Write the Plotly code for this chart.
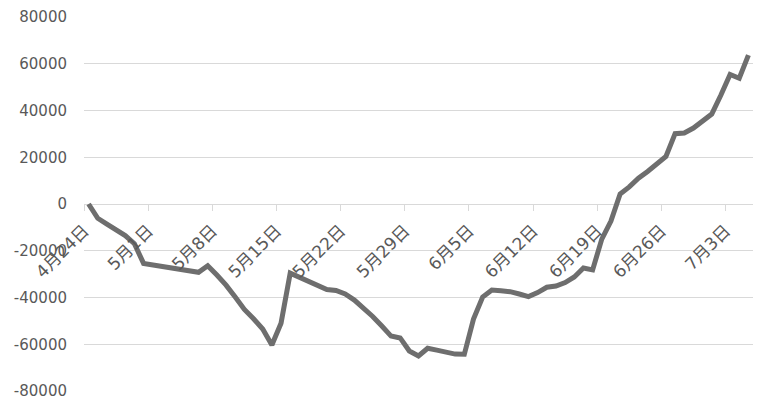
import plotly.graph_objects as go
import pandas as pd

# Data (daily values, 2020)
dates = [
    "2020-04-24", "2020-04-25", "2020-04-26", "2020-04-27", "2020-04-28", "2020-04-29", "2020-04-30",
    "2020-05-06", "2020-05-07", "2020-05-08", "2020-05-09", "2020-05-10", "2020-05-11", "2020-05-12",
    "2020-05-13", "2020-05-14", "2020-05-15", "2020-05-16", "2020-05-17", "2020-05-18", "2020-05-19",
    "2020-05-20", "2020-05-21", "2020-05-22", "2020-05-23", "2020-05-24", "2020-05-25", "2020-05-26",
    "2020-05-27", "2020-05-28", "2020-05-29", "2020-05-30", "2020-05-31", "2020-06-01", "2020-06-02",
    "2020-06-03", "2020-06-04", "2020-06-05", "2020-06-06", "2020-06-07", "2020-06-08", "2020-06-09",
    "2020-06-10", "2020-06-11", "2020-06-12", "2020-06-13", "2020-06-14", "2020-06-15", "2020-06-16",
    "2020-06-17", "2020-06-18", "2020-06-19", "2020-06-20", "2020-06-21", "2020-06-22", "2020-06-23",
    "2020-06-24", "2020-06-25", "2020-06-26", "2020-06-27", "2020-06-28", "2020-06-29", "2020-06-30",
    "2020-07-01", "2020-07-02", "2020-07-03", "2020-07-04", "2020-07-05",
]
values = [
    0, -6100, -8600, -11100, -13500, -17000, -25400,
    -29200, -26400, -30400, -34700, -39800, -45100, -49100,
    -53500, -60300, -51000, -29600, -31400, -33000, -34700,
    -36600, -37000, -38500, -41100, -44400, -48100, -52200,
    -56500, -57300, -62900, -65000, -61700, -62500, -63300,
    -64200, -64300, -49200, -39800, -36800, -37100, -37500,
    -38500, -39600, -37900, -35600, -35100, -33600, -31200,
    -27400, -28200, -15000, -7300, 4300, 7300, 11000,
    13900, 17000, 20300, 30100, 30400, 32500, 35400,
    38500, 46600, 55400, 53800, 63700,
]

tick_dates = ["2020-04-24", "2020-05-01", "2020-05-08", "2020-05-15", "2020-05-22", "2020-05-29",
              "2020-06-05", "2020-06-12", "2020-06-19", "2020-06-26", "2020-07-03"]
tick_labels = ["4月24日", "5月1日", "5月8日", "5月15日", "5月22日", "5月29日",
               "6月5日", "6月12日", "6月19日", "6月26日", "7月3日"]
y_ticks = [-80000, -60000, -40000, -20000, 0, 20000, 40000, 60000, 80000]
y_tick_labels = ["-80000", "-60000", "-40000", "-20000", "0", "20000", "40000", "60000", "80000"]

# Excel-style date axis: each day occupies a bin, ticks on bin edges
half_day = pd.Timedelta(hours=12)
tick_vals = [pd.Timestamp(d) - half_day for d in tick_dates]
x_range = [pd.Timestamp(dates[0]) - half_day, pd.Timestamp(dates[-1]) + half_day]

font_family = "DejaVu Sans, Noto Sans CJK SC, sans-serif"
label_color = "#595959"
grid_color = "#d9d9d9"

fig = go.Figure()
fig.add_trace(go.Scatter(
    x=pd.to_datetime(dates), y=values, mode="lines",
    line=dict(color="#6e6e6e", width=5),
    hoverinfo="x+y", showlegend=False,
))

# the page body adds an 8px offset; margins compensate for it
fig.update_layout(
    width=761, height=405,
    margin=dict(l=76, r=16, t=9, b=22),
    paper_bgcolor="white", plot_bgcolor="white",
    font=dict(family=font_family, size=15, color=label_color),
    xaxis=dict(
        type="date", range=x_range, automargin=False,
        tickmode="array", tickvals=tick_vals, ticktext=tick_labels,
        tickangle=-45, tickfont=dict(size=17, color=label_color),
        showgrid=False, showline=False,
        ticks="outside", ticklen=6, tickcolor=grid_color, tickwidth=1,
        ticklabelstandoff=3, layer="above traces",
        anchor="free", position=0.5, zeroline=False,
    ),
    yaxis=dict(
        range=[-80000, 80000], automargin=False,
        tickmode="array", tickvals=y_ticks, ticktext=y_tick_labels,
        showgrid=True, gridcolor=grid_color, gridwidth=1,
        zeroline=True, zerolinecolor=grid_color, zerolinewidth=1,
        showline=False, ticks="", ticklabelstandoff=16,
        tickfont=dict(size=15, color=label_color),
    ),
)

fig.write_html("out.html")
